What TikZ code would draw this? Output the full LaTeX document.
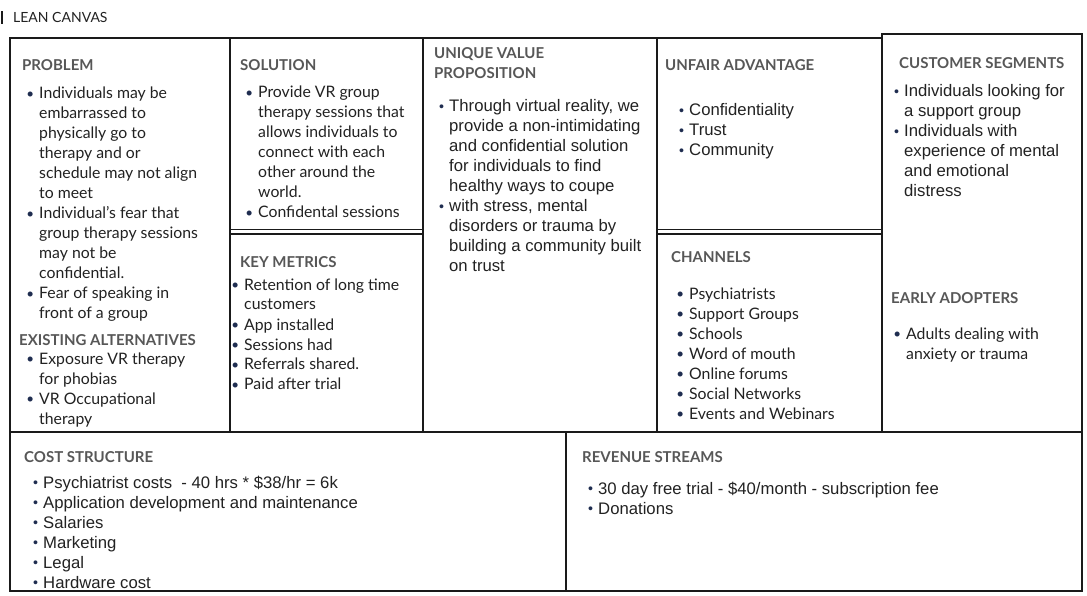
\documentclass[tikz,border=0pt]{standalone}
\usepackage{fontspec}
\usepackage{graphicx}
\setmainfont{Liberation Sans}
\newfontfamily\humsans{Lato}
\definecolor{frame}{HTML}{1A1A1A}
\definecolor{headgray}{HTML}{575757}
\definecolor{bodytext}{HTML}{222222}
\definecolor{dotcol}{HTML}{1F2D50}
% bullet box and continuation indent (14pt wide, bullet 5pt before the text)
\newcommand{\B}{\makebox[14pt][r]{\textcolor{dotcol}{\raisebox{0.3pt}{\scalebox{0.85}{•}}}\hspace{5pt}}}
\newcommand{\C}{\hspace*{14pt}}
\newcommand{\lines}[1]{\begin{tabular}[t]{@{}l@{}}#1\end{tabular}}
\begin{document}
\begin{tikzpicture}[x=1pt,y=-1pt,
  rule/.style={draw=frame,line width=1.7pt},
  thin/.style={draw=frame,line width=1.4pt},
  hd/.style={anchor=base west,inner sep=0pt,text=headgray,font=\humsans\bfseries\fontsize{15}{20}\selectfont},
  hl/.style={anchor=base west,inner sep=0pt,text=bodytext,font=\humsans\fontsize{15.8}{20}\selectfont},
  al/.style={anchor=base west,inner sep=0pt,text=bodytext,font=\fontsize{16.7}{20}\selectfont}]
\useasboundingbox (0,0) rectangle (1087,596);
\fill[white] (0,0) rectangle (1087,596);

% title
\fill[frame] (1,11) rectangle (3,24);
\node[anchor=base west,inner sep=0pt,text=bodytext,font=\humsans\fontsize{14}{16}\selectfont] (title) at (13,23) {LEAN CANVAS};

% outer frame, with the raised customer segments column
\draw[rule] (10,38) -- (882,38) -- (882,34) -- (1082,34) -- (1082,591) -- (10,591) -- cycle;
% column dividers
\draw[rule] (230,38) -- (230,432);
\draw[rule] (423,38) -- (423,432);
\draw[rule] (657,38) -- (657,432);
\draw[rule] (882,38) -- (882,432);
% row divider and bottom split
\draw[rule] (10,432) -- (1082,432);
\draw[rule] (566,432) -- (566,591);
% double separators
\draw[thin] (230,229.5) -- (423,229.5);
\draw[thin] (230,234) -- (423,234);
\draw[thin] (657,229.5) -- (882,229.5);
\draw[thin] (657,234) -- (882,234);

% PROBLEM
\node[hd] (problemH) at (22,71) {PROBLEM};
\node[hl] (problemL) at (25,99) {\lines{%
\B Individuals may be\\
\C embarrassed to\\
\C physically go to\\
\C therapy and or\\
\C schedule may not align\\
\C to meet\\
\B Individual’s fear that\\
\C group therapy sessions\\
\C may not be\\
\C confidential.\\
\B Fear of speaking in\\
\C front of a group}};
\node[hd] (altH) at (19,345) {EXISTING ALTERNATIVES};
\node[hl] (altL) at (25,364) {\lines{%
\B Exposure VR therapy\\
\C for phobias\\
\B VR Occupational\\
\C therapy}};

% SOLUTION
\node[hd] (solH) at (240,71) {SOLUTION};
\node[hl] (solL) at (244,98) {\lines{%
\B Provide VR group\\
\C therapy sessions that\\
\C allows individuals to\\
\C connect with each\\
\C other around the\\
\C world.\\
\B Confidental sessions}};

% KEY METRICS
\node[hd] (kmH) at (240,267) {KEY METRICS};
\node[hl] (kmL) at (230,290) {\lines{%
\B Retention of long time\\
\C customers\\
\B App installed\\
\B Sessions had\\
\B Referrals shared.\\
\B Paid after trial}};

% UNIQUE VALUE PROPOSITION
\node[hd] (uvpH) at (434,59) {\lines{UNIQUE VALUE\\PROPOSITION}};
\node[al] (uvpL) at (435,112) {\lines{%
\B Through virtual reality, we\\
\C provide a non-intimidating\\
\C and confidential solution\\
\C for individuals to find\\
\C healthy ways to coupe\\
\B with stress, mental\\
\C disorders or trauma by\\
\C building a community built\\
\C on trust}};

% UNFAIR ADVANTAGE
\node[hd] (uaH) at (665,71) {UNFAIR ADVANTAGE};
\node[al] (uaL) at (675,116) {\lines{%
\B Confidentiality\\
\B Trust\\
\B Community}};

% CHANNELS
\node[hd] (chH) at (671,262) {CHANNELS};
\node[hl] (chL) at (675,299) {\lines{%
\B Psychiatrists\\
\B Support Groups\\
\B Schools\\
\B Word of mouth\\
\B Online forums\\
\B Social Networks\\
\B Events and Webinars}};

% CUSTOMER SEGMENTS
\node[hd] (csH) at (899,69) {CUSTOMER SEGMENTS};
\node[al] (csL) at (890,97) {\lines{%
\B Individuals looking for\\
\C a support group\\
\B Individuals with\\
\C experience of mental\\
\C and emotional\\
\C distress}};

% EARLY ADOPTERS
\node[hd] (eaH) at (891,303) {EARLY ADOPTERS};
\node[hl] (eaL) at (892,339) {\lines{%
\B Adults dealing with\\
\C anxiety or trauma}};

% COST STRUCTURE
\node[hd] (costH) at (24,462) {COST STRUCTURE};
\node[al] (costL) at (29,488) {\lines{%
\B Psychiatrist costs \ - 40 hrs * \$38/hr = 6k\\
\B Application development and maintenance\\
\B Salaries\\
\B Marketing\\
\B Legal\\
\B Hardware cost}};

% REVENUE STREAMS
\node[hd] (revH) at (582,462) {REVENUE STREAMS};
\node[al] (revL) at (584,494) {\lines{%
\B 30 day free trial - \$40/month - subscription fee\\
\B Donations}};
\end{tikzpicture}
\end{document}
